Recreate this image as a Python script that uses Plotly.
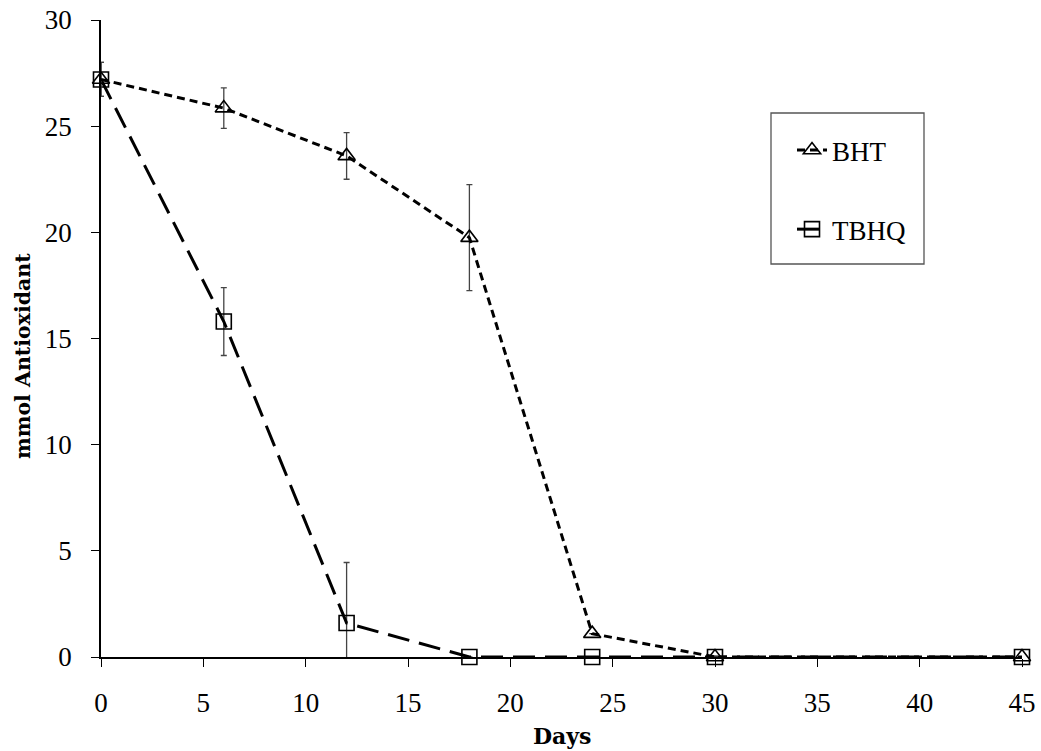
import plotly.graph_objects as go

days = [0, 6, 12, 18, 24, 30, 45]
bht = [27.2, 25.85, 23.6, 19.75, 1.1, 0, 0]
bht_err = [0.8, 0.95, 1.1, 2.5, 0, 0, 0]
tbhq = [27.2, 15.8, 1.6, 0, 0, 0, 0]
tbhq_err = [0.8, 1.6, 2.85, 0, 0, 0, 0]

x_ticks = [0, 5, 10, 15, 20, 25, 30, 35, 40, 45]
y_ticks = [0, 5, 10, 15, 20, 25, 30]

TICKFONT = "Liberation Serif"
TITLEFONT = "DejaVu Serif"

L, R, T, B = 101, 1022, 20, 657
W, H = R - L, B - T

fig = go.Figure()
fig.add_trace(go.Scatter(
    x=days, y=tbhq, name="TBHQ", mode="lines+markers", legendgroup="b", legendrank=2,
    line=dict(color="black", width=3, dash="22px,10px"),
    marker=dict(symbol="square-open", size=15, color="black", line=dict(width=1.6)),
    error_y=dict(type="data", array=tbhq_err, visible=True, color="#444", thickness=1.3, width=3),
    cliponaxis=False,
))
fig.add_trace(go.Scatter(
    x=days, y=bht, name="BHT", mode="lines+markers", legendgroup="a", legendrank=1,
    line=dict(color="black", width=3, dash="8px,5px"),
    marker=dict(symbol="triangle-up-open", size=15, color="black", line=dict(width=1.6)),
    error_y=dict(type="data", array=bht_err, visible=True, color="#444", thickness=1.3, width=3),
    cliponaxis=False,
))

fig.add_shape(type="rect", xref="paper", yref="paper",
              x0=(771 - L) / W, x1=(924 - L) / W,
              y0=(B - 264) / H, y1=(B - 113) / H,
              line=dict(color="#555", width=1.3), fillcolor="white", layer="below")

fig.add_annotation(text="<b>Days</b>", xref="paper", yref="paper",
                   x=0.5 * (532 + 593 - 2 * L) / W, y=(B - 736) / H,
                   xanchor="center", yanchor="middle", showarrow=False,
                   font=dict(family=TITLEFONT, size=22, color="black"))
fig.add_annotation(text="<b>mmol Antioxidant</b>", xref="paper", yref="paper",
                   x=(23 - L) / W, y=(B - 356) / H, textangle=-90,
                   xanchor="center", yanchor="middle", showarrow=False,
                   font=dict(family=TITLEFONT, size=20.5, color="black"))

fig.update_layout(
    width=1041, height=751,
    margin=dict(l=L, r=1041 - R, t=T, b=751 - B, autoexpand=False),
    paper_bgcolor="white", plot_bgcolor="white",
    font=dict(family=TICKFONT, size=27, color="black"),
    showlegend=True,
    legend=dict(x=(792 - L) / W, y=(B - 126) / H, xanchor="left", yanchor="top",
                bgcolor="rgba(0,0,0,0)", traceorder="grouped",
                tracegroupgap=41, font=dict(family=TICKFONT, size=27),
                itemwidth=30),
    xaxis=dict(range=[0, 45], tickvals=x_ticks, showgrid=False, zeroline=False,
               showline=True, linecolor="black", linewidth=1.5, automargin=False,
               ticks="outside", ticklen=8, tickcolor="black", tickwidth=1.3,
               ticklabelstandoff=13,
               tickfont=dict(family=TICKFONT, size=27)),
    yaxis=dict(range=[0, 30], tickvals=y_ticks, showgrid=False, zeroline=False,
               showline=True, linecolor="black", linewidth=1.5, automargin=False,
               ticks="outside", ticklen=8, tickcolor="black", tickwidth=1.3,
               ticklabelstandoff=14,
               tickfont=dict(family=TICKFONT, size=27)),
)

fig.write_html("out.html")
